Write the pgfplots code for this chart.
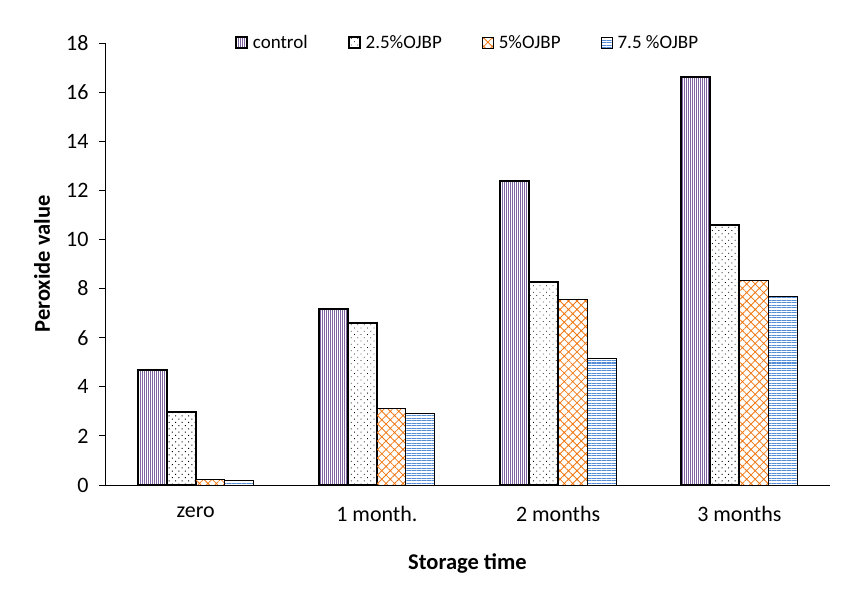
\documentclass[border=0pt]{standalone}
\usepackage{pgfplots}
\pgfplotsset{compat=1.18}
\usepackage{fontspec}
\setmainfont{Carlito}
\usetikzlibrary{patterns.meta}
\definecolor{cpurple}{RGB}{128,100,162}
\definecolor{corange}{RGB}{240,120,20}
\definecolor{cblue}{RGB}{85,142,213}
\begin{document}
\begin{tikzpicture}
\path[use as bounding box] (0,0) rectangle (852pt,598pt);
\begin{axis}[
  at={(105pt,113pt)}, anchor=south west,
  scale only axis, width=725pt, height=442pt,
  ybar=0pt, bar width=0.16,
  xmin=-0.5, xmax=3.5, ymin=0, ymax=18,
  ytick={0,2,...,18},
  xtick={0,1,2,3},
  xticklabels={zero,1 month.,2 months,3 months},
  extra x ticks={-0.5,0.5,1.5,2.5,3.5},
  extra x tick labels={},
  extra x tick style={major tick length=6pt},
  x tick style={draw=none},
  y tick style={black, line width=0.8pt},
  tick align=outside,
  major tick length=6pt,
  axis x line*=bottom, axis y line*=left,
  axis line style={-, line width=0.9pt, black},
  /pgf/number format/assume math mode=true,
  tick label style={font=\fontsize{22}{24}\selectfont},
  xticklabel style={yshift=-12pt},
  yticklabel style={xshift=-7pt},
  xlabel={\textbf{Storage time}},
  ylabel={\textbf{Peroxide value}},
  label style={font=\fontsize{22.5}{25}\selectfont},
  xlabel style={at={(axis description cs:0.5,0)}, anchor=center, yshift=-78pt},
  ylabel style={at={(axis description cs:-0.0869,0.5)}, anchor=center},
  legend columns=4,
  legend style={at={(axis description cs:0.5,1)}, anchor=center, draw=none, fill=none,
    font=\fontsize{19}{21}\selectfont,
    /tikz/every odd column/.append style={column sep=3pt},
    /tikz/every even column/.append style={column sep=38pt}},
  legend image code/.code={\draw[#1] (0pt,-5.5pt) rectangle (11pt,5.5pt);},
]
\addplot[draw=black, line width=2pt, pattern={Lines[angle=90, distance=2pt, line width=0.9pt]}, pattern color=cpurple]
  coordinates {(0,4.70) (1,7.18) (2,12.39) (3,16.62)};
\addplot[draw=black, line width=2pt, pattern={Dots[distance=4.6pt, angle=45, radius=0.6pt]}, pattern color=black]
  coordinates {(0,2.98) (1,6.61) (2,8.28) (3,10.60)};
\addplot[draw=black, line width=1pt, pattern={Hatch[angle=45, distance=6pt, line width=0.8pt]}, pattern color=corange]
  coordinates {(0,0.24) (1,3.13) (2,7.57) (3,8.31)};
\addplot[draw=black, line width=1pt, pattern={Lines[angle=0, distance=2.5pt, line width=1pt]}, pattern color=cblue]
  coordinates {(0,0.19) (1,2.92) (2,5.16) (3,7.68)};
\legend{control,2.5\%OJBP,5\%OJBP,7.5 \%OJBP}
\end{axis}
\end{tikzpicture}
\end{document}
